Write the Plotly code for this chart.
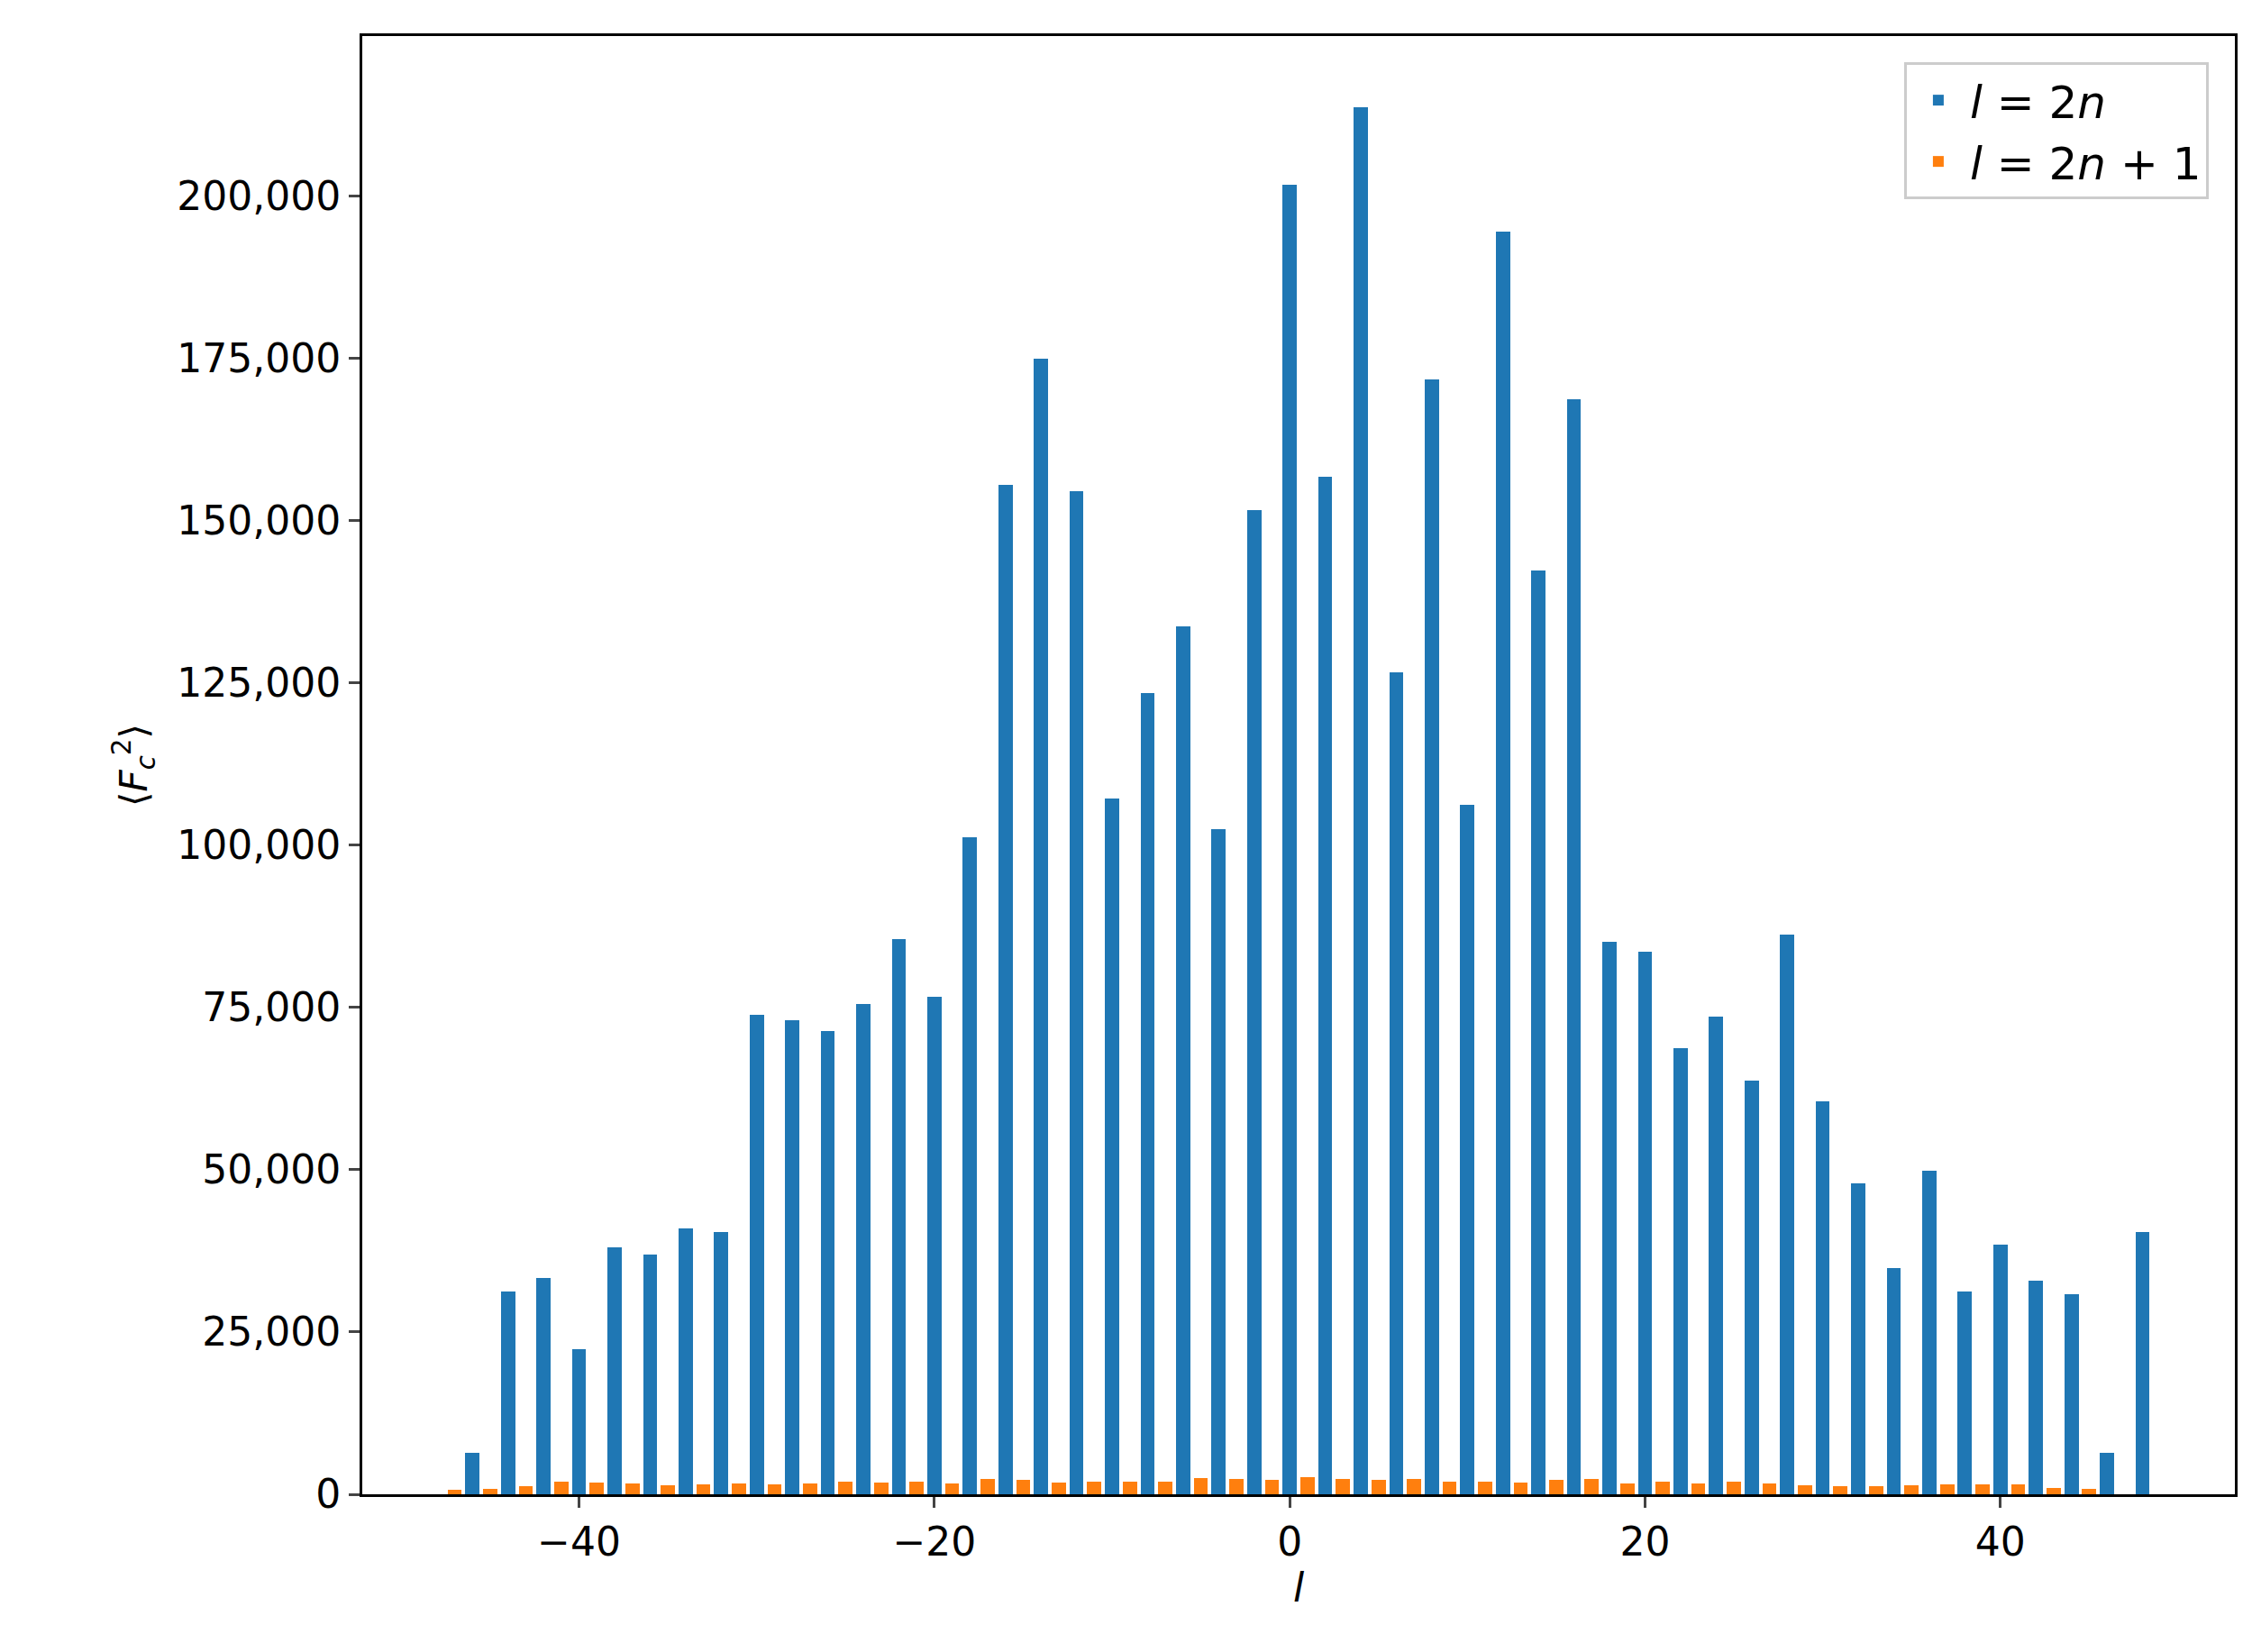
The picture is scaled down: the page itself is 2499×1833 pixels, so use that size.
import plotly.graph_objects as go

even_l = list(range(-46, 49, 2))
even_vals = [6400, 31300, 33300, 22300, 38100, 37000, 41000, 40400, 73900, 73000,
             71400, 75600, 85600, 76700, 101200, 155500, 175000, 154600, 107200, 123500,
             133800, 102500, 151700, 201800, 156800, 213700, 126600, 171800, 106300, 194500,
             142400, 168700, 85100, 83600, 68800, 73600, 63700, 86200, 60600, 47900,
             34800, 49800, 31300, 38400, 32900, 30900, 6400, 40400]
odd_l = list(range(-47, 46, 2))
odd_vals = [700, 800, 1200, 2000, 1800, 1700, 1400, 1500, 1600, 1500, 1600, 2000, 1800,
            2000, 1700, 2400, 2200, 1800, 2000, 1900, 2000, 2500, 2300, 2200, 2600, 2300,
            2200, 2300, 2000, 2000, 1800, 2200, 2400, 1700, 1900, 1700, 2000, 1600, 1400,
            1300, 1300, 1400, 1500, 1500, 1500, 1000, 800]

fig = go.Figure()
fig.add_bar(x=even_l, y=even_vals, width=0.8, marker_color="#1f77b4",
            marker_line_width=0, name="<i>l</i> = 2<i>n</i>")
fig.add_bar(x=odd_l, y=odd_vals, width=0.8, marker_color="#ff7f0e",
            marker_line_width=0, name="<i>l</i> = 2<i>n</i> + 1")

axis_common = dict(showgrid=False, zeroline=False, showline=True, linecolor="black",
                   linewidth=3, mirror=True, ticks="outside", ticklen=12, tickwidth=2.5,
                   tickfont=dict(size=44, color="black"))
fig.update_layout(
    width=2499, height=1833, paper_bgcolor="white", plot_bgcolor="white",
    margin=dict(l=394, r=27, t=32, b=183),
    font=dict(family="DejaVu Sans", color="black"),
    barmode="overlay", bargap=0,
    xaxis=dict(range=[-52.2, 53.2], tickvals=[-40, -20, 0, 20, 40],
               ticktext=["−40", "−20", "0", "20", "40"],
               title=dict(text="<i>l</i>", font=dict(size=44), standoff=12), **axis_common),
    yaxis=dict(range=[0, 224700], tickvals=list(range(0, 200001, 25000)),
               tickformat=",", title=dict(text="⟨<i>F</i><sub><i>c</i></sub><sup>2</sup>⟩",
               font=dict(size=42), standoff=20), **axis_common),
    legend=dict(x=0.986, y=0.982, xanchor="right", yanchor="top",
                bgcolor="rgba(255,255,255,0.8)", bordercolor="#cccccc", borderwidth=3,
                font=dict(size=50), itemwidth=60, tracegroupgap=10),
)
fig.write_html("out.html")
